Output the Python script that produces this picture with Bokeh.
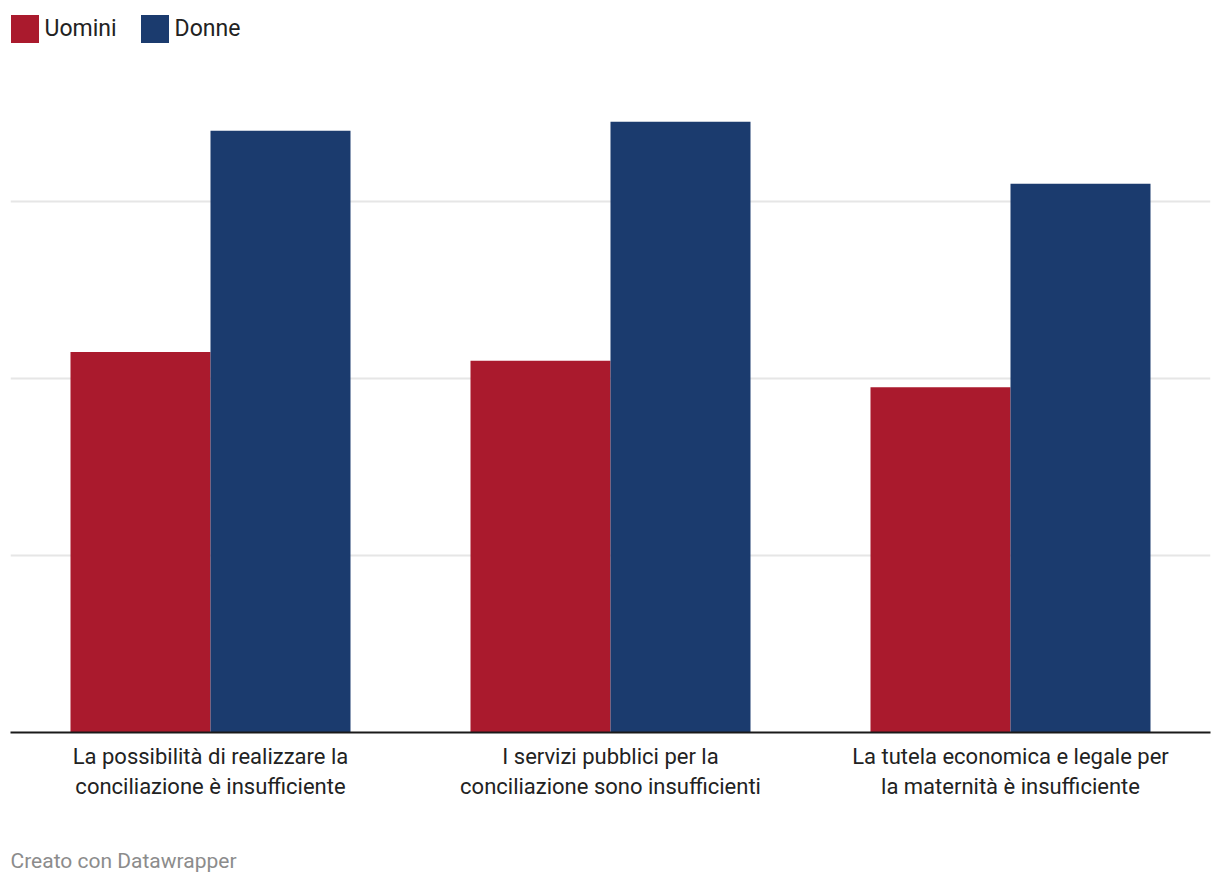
from bokeh.plotting import figure
from bokeh.models import (ColumnDataSource, FactorRange, Range1d, FixedTicker,
                          Legend, LegendItem, Title)
from bokeh.transform import dodge
from bokeh.embed import file_html
from bokeh.resources import INLINE

categories = [
    "La possibilità di realizzare la\nconciliazione è insufficiente",
    "I servizi pubblici per la\nconciliazione sono insufficienti",
    "La tutela economica e legale per\nla maternità è insufficiente",
]
uomini = [43, 42, 39]
donne = [68, 69, 62]
series_names = ["Uomini", "Donne"]
grid_values = [20, 40, 60]
footer_text = "Creato con Datawrapper"

RED = "#aa1a2d"
BLUE = "#1b3b6e"
FONT = "Roboto"

src = ColumnDataSource(dict(cat=categories, uomini=uomini, donne=donne))

p = figure(
    width=1212, height=882,
    x_range=FactorRange(*categories, range_padding=0),
    y_range=Range1d(0, 82.71),
    output_backend="svg", toolbar_location=None,
    min_border_left=10, min_border_right=2, min_border_top=0, min_border_bottom=150,
    outline_line_color=None,
)
p.yaxis.visible = False
p.xgrid.visible = False
p.ygrid.ticker = FixedTicker(ticks=grid_values)
p.ygrid.grid_line_color = "#e6e6e6"
p.ygrid.grid_line_width = 2

r1 = p.vbar(x=dodge("cat", -0.175, range=p.x_range), top="uomini", width=0.35,
            source=src, fill_color=RED, line_color=None)
r2 = p.vbar(x=dodge("cat", 0.175, range=p.x_range), top="donne", width=0.35,
            source=src, fill_color=BLUE, line_color=None)

ax = p.xaxis[0]
ax.axis_line_color = "#1a1a1a"
ax.axis_line_width = 2
ax.major_tick_line_color = None
ax.minor_tick_line_color = None
ax.major_label_text_font = FONT
ax.major_label_text_font_size = "22px"
ax.major_label_text_color = "#222222"
ax.major_label_standoff = 5
# blank axis label used only as vertical spacer before the footer
ax.axis_label = "\u00a0"
ax.axis_label_standoff = 18
ax.axis_label_text_font = FONT
ax.axis_label_text_font_size = "21px"

p.add_layout(Title(text=footer_text, align="left", text_font=FONT,
                   text_font_size="21px", text_font_style="normal",
                   text_color="#8c8c8c", standoff=0), "below")

legend = Legend(
    items=[LegendItem(label=series_names[0], renderers=[r1]),
           LegendItem(label=series_names[1], renderers=[r2])],
    orientation="horizontal", location=(-3.5, 686.5),
    glyph_width=35, glyph_height=35, label_standoff=3, spacing=20,
    padding=0, margin=0, border_line_color=None, background_fill_alpha=0,
    label_text_font=FONT, label_text_font_size="23px", label_text_color="#222222",
    label_height=35,
)
p.add_layout(legend, "center")

open("out.html", "w").write(file_html(p, INLINE))
